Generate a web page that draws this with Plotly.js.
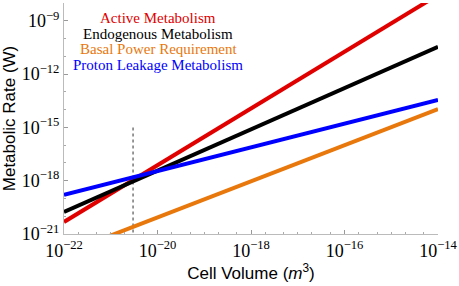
<!DOCTYPE html>
<html><head><meta charset="utf-8">
<script src="https://cdn.plot.ly/plotly-3.0.1.min.js"></script>
<style>html,body{margin:0;padding:0;background:#fff;}#plot{width:459px;height:286px;}</style>
</head><body><div id="plot"></div>
<script>
// Cell volume endpoints (m^3)
const volume = [1e-22, 1e-14];
// Metabolic rates (W) at the endpoints
const activeRate = [Math.pow(10, -20.32), Math.pow(10, -7.55)];
const endogenousRate = [Math.pow(10, -19.76), Math.pow(10, -10.46)];
const basalRate = [Math.pow(10, -22.1), Math.pow(10, -13.97)];
const protonRate = [Math.pow(10, -18.8), Math.pow(10, -13.46)];
// Marker line
const markerX = [3e-21, 3e-21];
const markerY = [1e-15, 1e-21];
const seriesNames = ["Active Metabolism", "Endogenous Metabolism", "Basal Power Requirement", "Proton Leakage Metabolism"];
const seriesColors = ["#e00000", "#000000", "#e8780c", "#0000ff"];
const xTickVals = [1e-22, 1e-20, 1e-18, 1e-16, 1e-14];
const xTickText = ["10<sup>−22</sup>", "10<sup>−20</sup>", "10<sup>−18</sup>", "10<sup>−16</sup>", "10<sup>−14</sup>"];
const yTickVals = [1e-21, 1e-18, 1e-15, 1e-12, 1e-9];
const yTickText = ["10<sup>−21</sup>", "10<sup>−18</sup>", "10<sup>−15</sup>", "10<sup>−12</sup>", "10<sup>−9</sup>"];

const rates = [activeRate, endogenousRate, basalRate, protonRate];
const traces = [{
  x: markerX, y: markerY, mode: 'lines', showlegend: false,
  line: {color: '#777', width: 1.5, dash: 'dot'}, hoverinfo: 'skip'
}];
rates.forEach((r, i) => traces.push({
  x: volume, y: r, mode: 'lines', name: seriesNames[i], showlegend: false,
  line: {color: seriesColors[i], width: 4}
}));

const SERIF = 'Liberation Serif';
const annotations = seriesNames.map((n, i) => ({
  text: n, xref: 'paper', yref: 'paper', x: (158 - 64) / 374, y: (234 - (18 + i * 15.6)) / 231,
  xanchor: 'center', yanchor: 'middle', showarrow: false,
  font: {family: SERIF, size: 15, color: seriesColors[i]}
}));

const layout = {
  width: 459, height: 286,
  margin: {l: 64, r: 21, t: 3, b: 52},
  paper_bgcolor: '#fff', plot_bgcolor: '#fff',
  showlegend: false,
  font: {family: SERIF, size: 18, color: '#000'},
  xaxis: {
    type: 'log', range: [-22, -14], tickvals: xTickVals, ticktext: xTickText,
    tickfont: {family: SERIF, size: 18, color: '#000'}, showgrid: false, zeroline: false,
    showline: true, linecolor: '#bbb', linewidth: 1, mirror: false,
    ticks: 'inside', ticklen: 4, tickcolor: '#999',
    minor: {ticks: 'inside', ticklen: 2, tickcolor: '#aaa', showgrid: false},
    title: {text: 'Cell Volume (<i>m</i><sup>3</sup>)', font: {family: 'Liberation Sans', size: 17, color: '#000'}, standoff: 6}
  },
  yaxis: {
    type: 'log', range: [-21, -8], tickvals: yTickVals, ticktext: yTickText,
    tickfont: {family: SERIF, size: 18, color: '#000'}, showgrid: false, zeroline: false,
    showline: true, linecolor: '#bbb', linewidth: 1,
    ticks: 'inside', ticklen: 4, tickcolor: '#999',
    minor: {ticks: 'inside', ticklen: 2, tickcolor: '#aaa', showgrid: false},
    title: {text: 'Metabolic Rate (W)', font: {family: 'Liberation Sans', size: 17, color: '#000'}, standoff: 2}
  },
  annotations: annotations
};
Plotly.newPlot('plot', traces, layout, {staticPlot: true, displayModeBar: false});
</script></body></html>
